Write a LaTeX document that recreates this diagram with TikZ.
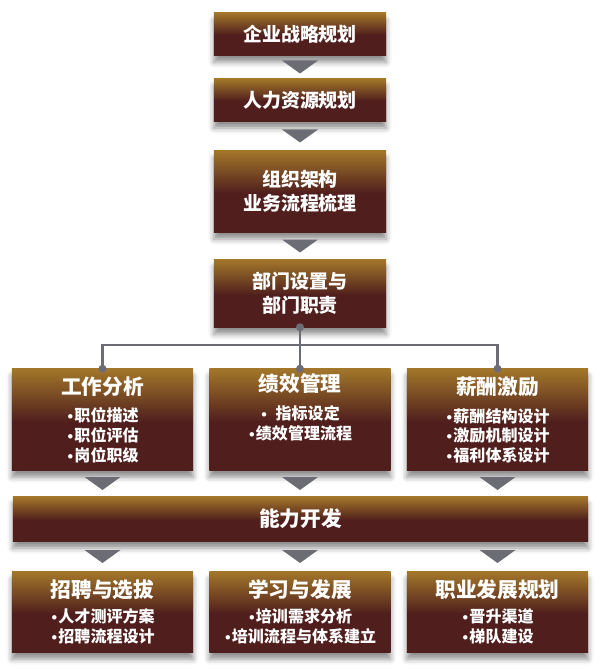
\documentclass[tikz,border=0pt]{standalone}
\usepackage{fontspec}
\setmainfont{Noto Sans CJK SC}
\newfontfamily\bulletfont{DejaVu Sans}
\usetikzlibrary{calc,shadows.blur}

\definecolor{goldtop}{RGB}{162,118,42}
\definecolor{maroon}{RGB}{80,31,29}
\definecolor{arrowgray}{RGB}{108,108,116}

\pgfdeclareverticalshading{stageshade}{100bp}{color(0bp)=(maroon); color(25bp)=(maroon);
  color(49bp)=(maroon); color(75bp)=(goldtop); color(100bp)=(goldtop)}

\newcommand\topfont{\fontsize{13.5}{17}\selectfont}
\newcommand\headfont{\fontsize{14.7}{18}\selectfont}
\newcommand\itemfont{\fontsize{11.4}{13.9}\selectfont}
\newcommand\bul{{\bulletfont\fontsize{9}{9}\selectfont •}}

% filled down-triangle centred at a coordinate
\newcommand\downtri[1]{\fill[arrowgray] ($(#1)+(-18,-6.5)$) -- ++(36,0) -- ++(-18,13) -- cycle;}

\begin{document}
\begin{tikzpicture}[x=0.025cm, y=-0.025cm,
  stage/.style={shading=stageshade, text=white, font=\bfseries, align=center, inner sep=0pt,
    blur shadow={shadow xshift=0pt, shadow yshift=-5pt,
      shadow blur radius=4pt, shadow opacity=45}},
  narrow/.style={stage, minimum width=4.3cm},
  wide/.style={stage, minimum width=4.53cm},
  link/.style={arrowgray, line width=1.5pt},
  hubdot/.style={fill=arrowgray}]

\useasboundingbox (0,0) rectangle (600,669);

% ===== Top chain =====
\node[narrow, minimum height=1.05cm, font=\bfseries\topfont] (strat) at (300,34) {企业战略规划};
\node[narrow, minimum height=1.05cm, font=\bfseries\topfont] (hr) at (300,100) {人力资源规划};
\node[narrow, minimum height=2.025cm, font=\bfseries\topfont] (org) at (300,191.5) {组织架构\\业务流程梳理};
\node[narrow, minimum height=1.675cm, font=\bfseries\topfont] (dept) at (300,293.5) {部门设置与\\部门职责};

\downtri{$(strat.south)!0.5!(hr.north)$}
\downtri{$(hr.south)!0.5!(org.north)$}
\downtri{$(org.south)!0.5!(dept.north)$}

% ===== Three functions =====
\node[wide, minimum height=2.525cm, font=\bfseries\itemfont] (job) at (102.5,419.5)
  {{\headfont 工作分析}\\[6pt]\bul 职位描述\\\bul 职位评估\\\bul 岗位职级};
\node[wide, minimum height=2.525cm, font=\bfseries\itemfont] (perf) at (300,419.5)
  {{\headfont 绩效管理}\\[6pt]\bul\ \ 指标设定\\\bul 绩效管理流程\\\strut};
\node[wide, minimum height=2.525cm, font=\bfseries\itemfont] (pay) at (497.5,419.5)
  {{\headfont 薪酬激励}\\[6pt]\bul 薪酬结构设计\\\bul 激励机制设计\\\bul 福利体系设计};

% connectors from the department box
\coordinate (bus) at (300,345);
\draw[link] (dept.south) -- (bus);
\draw[link] (job.north) |- (bus) -| (pay.north);
\draw[link] (perf.north) -- (bus);
\foreach \n in {job,perf,pay}
  \fill[hubdot] (\n.north) circle (0.1cm);
\fill[hubdot] (dept.south) circle (0.1cm);

% ===== Capability bar =====
\node[stage, minimum width=14.375cm, minimum height=1.1cm, font=\bfseries\headfont] (ability) at (300.5,519) {能力开发};

\foreach \n in {job,perf,pay}
  {\downtri{$(\n.south)!0.5!(\n.south |- ability.north)$}}

% ===== Development paths =====
\node[wide, minimum height=2cm, font=\bfseries\itemfont] (recruit) at (102.5,612)
  {{\headfont 招聘与选拔}\\[4pt]\bul 人才测评方案\\\bul 招聘流程设计};
\node[wide, minimum height=2cm, font=\bfseries\itemfont] (learn) at (300,612)
  {{\headfont 学习与发展}\\[4pt]\bul 培训需求分析\\\bul 培训流程与体系建立};
\node[wide, minimum height=2cm, font=\bfseries\itemfont] (career) at (497.5,612)
  {{\headfont 职业发展规划}\\[4pt]\bul 晋升渠道\\\bul 梯队建设};

\foreach \n in {recruit,learn,career}
  {\downtri{$(\n.north)!0.5!(\n.north |- ability.south)$}}

\end{tikzpicture}
\end{document}
